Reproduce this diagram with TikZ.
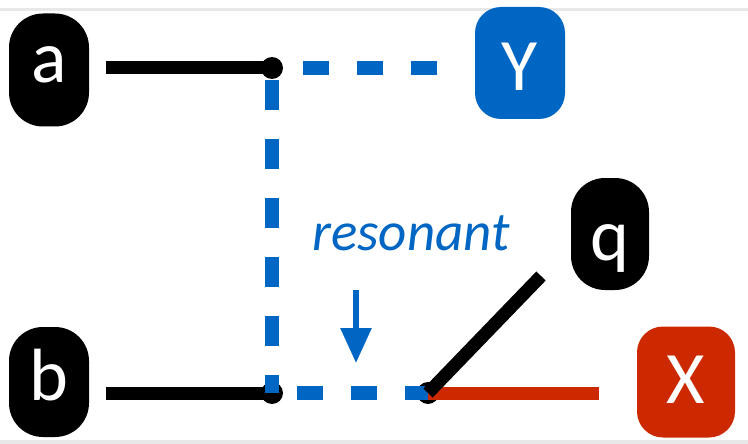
\documentclass[tikz,border=0pt]{standalone}
\usepackage{fontspec}
\setmainfont{Carlito}
\usetikzlibrary{arrows.meta}
\definecolor{myblue}{RGB}{0,102,196}
\definecolor{myred}{RGB}{204,41,0}
\definecolor{edgegray}{RGB}{232,232,232}
\begin{document}
\begin{tikzpicture}[x=1pt,y=-1pt,
  box/.style={rounded corners=26pt, inner sep=0pt, text=white, text depth=0pt,
    font=\fontsize{74}{74}\selectfont},
  blackbox/.style={box, fill=black, rounded corners=34pt},
  bline/.style={line width=13pt, black},
  bdashh/.style={line width=14pt, myblue, dash pattern=on 26pt off 28pt},
  bdashv/.style={line width=14pt, myblue, dash pattern=on 30pt off 29pt, dash phase=47pt},
  rline/.style={line width=13pt, myred},
  junction/.style={black}]
\useasboundingbox (0,0) rectangle (748,444);
% faint frame edges
\fill[edgegray] (0,8) rectangle (748,11);
\fill[edgegray] (0,440) rectangle (748,444);

% nodes
\node[blackbox, minimum width=80pt, minimum height=113pt, text height=26pt] (a) at (49,70) {a};
\node[box, fill=myblue, minimum width=90pt, minimum height=112pt, text height=56pt] (Y) at (520,63) {Y};
\node[blackbox, minimum width=80pt, minimum height=110pt, text height=36pt] (b) at (49,382) {b};
\node[blackbox, minimum width=78pt, minimum height=112pt, text height=52pt] (q) at (610,234) {q};
\node[box, fill=myred, minimum width=98pt, minimum height=111pt, text height=42pt] (X) at (686,382) {X};
\node[anchor=base, text=myblue, font=\fontsize{55}{55}\selectfont\itshape] (res) at (411,250) {resonant};

% junctions
\coordinate (ja) at (272,68);
\coordinate (jb) at (272,393);
\coordinate (jq) at (428,393);
\coordinate (qe) at (541,276);
\coordinate (arrS) at (356,290);
\coordinate (arrE) at (356,363);

% connectors
\draw[bdashh, dash phase=23pt, shorten >=38pt] (ja) -- (Y.west |- ja);
\draw[bline, shorten <=17pt] (a.east |- ja) -- (ja);
\draw[bline, shorten <=17pt] (b.east |- jb) -- (jb);
\fill[junction] (ja) circle (11pt);
\fill[junction] (jb) circle (11pt);
\fill[junction] (jq) circle (11pt);
\draw[bdashv] (ja) -- (jb);
\draw[bdashh, dash phase=29pt] (jb) -- (jq);
\draw[rline, shorten >=38pt] (jq) -- (X.west |- jq);
\draw[bline] (jq) -- (qe);

% arrow
\draw[myblue, line width=6pt, -{Triangle[length=35pt, width=30pt]}] (arrS) -- (arrE);
\end{tikzpicture}
\end{document}
